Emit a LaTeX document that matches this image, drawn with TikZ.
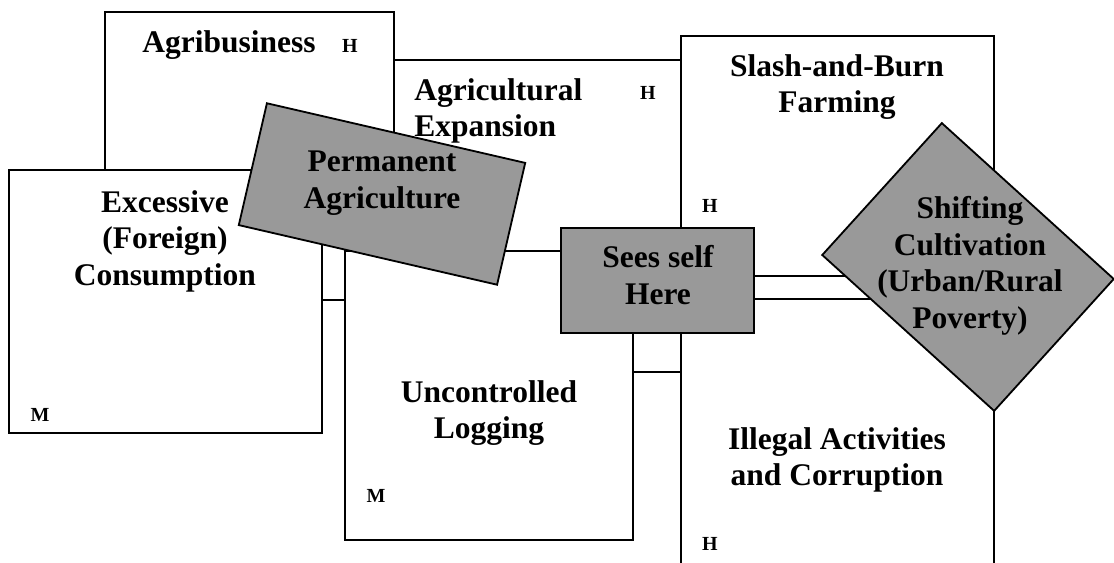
\documentclass[tikz,border=0pt]{standalone}
\usepackage{fontspec}
\setmainfont{Liberation Serif}
\usepackage{tikz}
\usetikzlibrary{
    fit,
    positioning
}
\definecolor{shadegray}{RGB}{153,153,153}
\tikzset{
    box/.style={draw=black, line width=1.3pt, fill=white, inner sep=0pt, outer sep=0pt},
    greybox/.style={box, fill=shadegray},
    title/.style={font=\bfseries\fontsize{22.4}{26}\selectfont, align=center, inner sep=0pt},
    grade/.style={font=\bfseries\fontsize{14.2}{16}\selectfont, inner sep=0pt, anchor=base}
}

\begin{document}
\begin{tikzpicture}[x=0.025cm, y=-0.025cm]
    \useasboundingbox (0, 0) rectangle (1114, 563);
    \clip (0, 0) rectangle (1114, 563);
    \node[box, fit={(105, 12) (394, 300)}] (agribiz) {};
    \node[title, anchor=base] (agribiztext) at (229, 53) {Agribusiness};
    \node[grade] (agribizgrade) at (350, 53) {H};
    \node[box, fit={(394, 60) (681, 372)}] (expansion) {};
    \node[title, align=left, anchor=west] (expansiontext) at (414, 111) {Agricultural\\Expansion};
    \node[grade] (expansiongrade) at (648, 100) {H};
    \node[box, fit={(9, 170) (322, 433)}] (excessive) {};
    \node[title] (excessivetext) at (165, 241) {Excessive\\(Foreign)\\Consumption};
    \node[grade] (excessivegrade) at (40, 422) {M};
    \node[box, fit={(345, 251) (633, 540)}] (logging) {};
    \node[title] (loggingtext) at (489, 413) {Uncontrolled\\Logging};
    \node[grade] (logginggrade) at (376, 503) {M};
    \node[box, fit={(681, 36) (994, 276)}] (slash) {};
    \node[title] (slashtext) at (837, 87) {Slash-and-Burn\\Farming};
    \node[grade] (slashgrade) at (710, 213) {H};
    \node[box, fit={(681, 299) (994, 600)}] (illegal) {};
    \node[title] (illegaltext) at (837, 460) {Illegal Activities\\and Corruption};
    \node[grade] (illegalgrade) at (710, 551) {H};
    \node[greybox, rotate=-13, minimum width=6.625cm, minimum height=3.125cm] (permanent) at (382, 194) {};
    \node[title] (permanenttext) at (382, 183) {Permanent\\Agriculture};
    \node[greybox, fit={(561, 228) (754, 333)}] (sees) {};
    \node[title] (seestext) at (658, 275) {Sees self\\Here};
    \node[greybox, rotate=-42.2, minimum width=5.8cm, minimum height=4.45cm] (shifting) at (968, 267) {};
    \node[title] (shiftingtext) at (970, 266) {Shifting\\Cultivation\\(Urban/Rural\\Poverty)};
\end{tikzpicture}
\end{document}
